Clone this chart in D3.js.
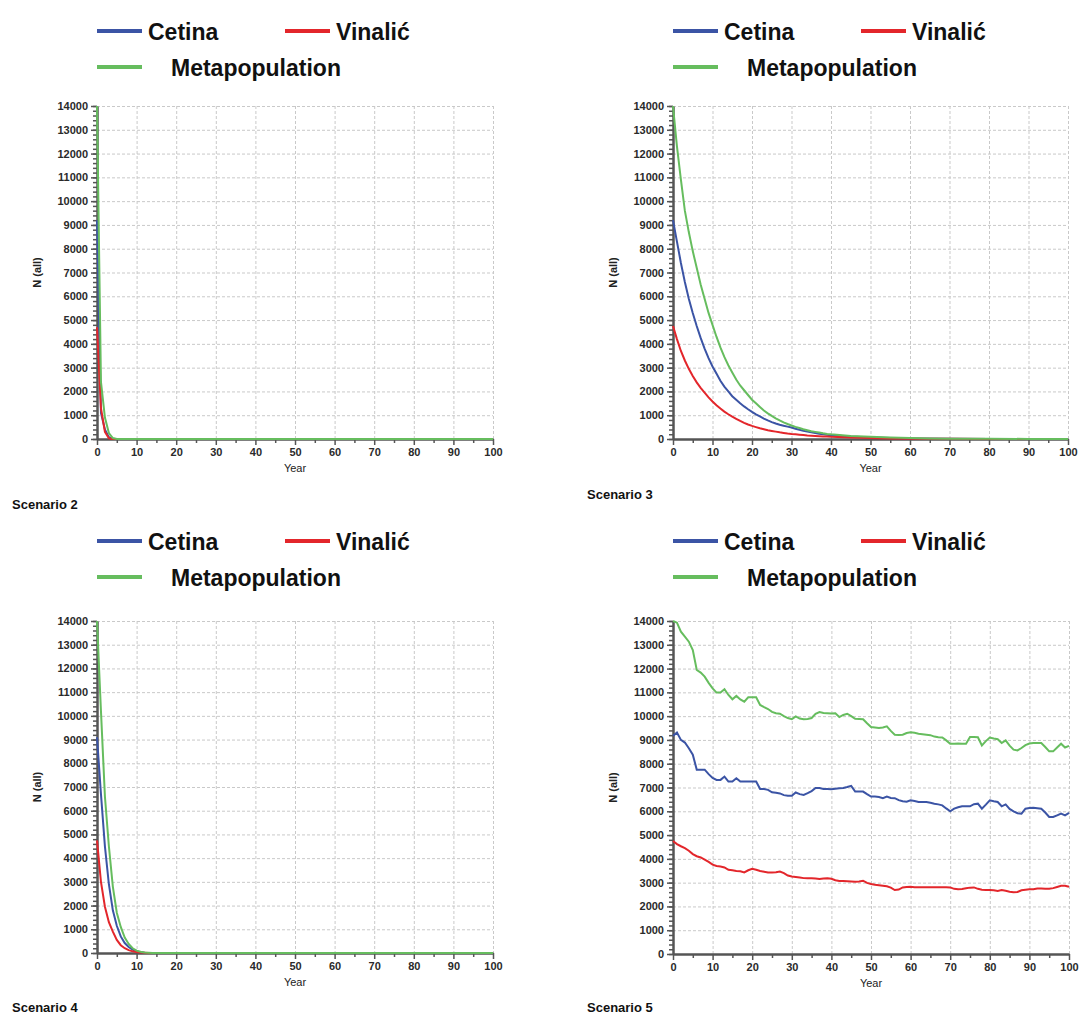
<!DOCTYPE html>
<html>
<head>
<meta charset="utf-8">
<script src="https://cdn.jsdelivr.net/npm/d3@7"></script>
<style>
  body { margin: 0; background: #fff; }
  .grid line { stroke: #c9c9c9; stroke-dasharray: 3,2; }
  .axis path, .axis line { stroke: #555; }
  .axis text { font-family: "Liberation Sans", Arial, sans-serif; font-size: 11px; font-weight: bold; fill: #2a2a2a; }
</style>
</head>
<body>
<svg id="chart"></svg>
<script>
const seriesNames = ["Cetina", "Vinalić", "Metapopulation"];
const seriesColors = ["#3b54a5", "#e3262b", "#66bd5e"];
const yTicks = [0, 1000, 2000, 3000, 4000, 5000, 6000, 7000, 8000, 9000, 10000, 11000, 12000, 13000, 14000];
const xTicks = [0, 10, 20, 30, 40, 50, 60, 70, 80, 90, 100];

// Scenario 2 - crash in the first few years
const s2CetinaYears = [0, 1, 2, 3, 4, 5, 100];
const s2Cetina = [9200, 1100, 400, 80, 5, 0, 0];
const s2VinalicYears = [0, 1, 2, 3, 4, 100];
const s2Vinalic = [4700, 1300, 300, 30, 0, 0];
const s2MetaYears = [0, 1, 2, 3, 4, 5, 100];
const s2Meta = [14000, 2400, 900, 250, 40, 0, 0];

// Scenario 3 - slow decline
const s3CetinaYears = [0, 1, 2, 3, 4, 5, 6, 7, 8, 9, 10, 11, 12, 13, 14, 15, 16, 17, 18, 19, 20,
  21, 22, 23, 24, 25, 26, 27, 28, 29, 30, 31, 32, 33, 34, 35, 36, 37, 38, 39, 40, 45, 50, 55, 60, 70, 80, 100];
const s3Cetina = [9200, 8300, 7400, 6600, 5900, 5300, 4750, 4250, 3800, 3400, 3050, 2750, 2450, 2200, 2000, 1800,
  1650, 1500, 1370, 1250, 1140, 1040, 950, 860, 780, 710, 650, 600, 560, 520, 480, 430, 390, 350, 310, 280, 250,
  220, 200, 180, 160, 100, 60, 40, 25, 10, 5, 2];
const s3VinalicYears = [0, 1, 2, 3, 4, 5, 6, 7, 8, 9, 10, 11, 12, 13, 14, 15, 16, 17, 18, 19, 20,
  21, 22, 23, 24, 25, 26, 27, 28, 29, 30, 31, 32, 33, 34, 35, 36, 37, 38, 39, 40, 45, 50, 55, 60, 70, 80, 100];
const s3Vinalic = [4750, 4200, 3700, 3300, 2950, 2650, 2380, 2150, 1950, 1750, 1580, 1420, 1280, 1150, 1040, 940,
  850, 760, 680, 610, 550, 500, 450, 410, 370, 340, 310, 280, 255, 230, 210, 195, 180, 165, 150, 140, 130, 120,
  110, 100, 90, 60, 40, 25, 15, 8, 4, 2];
const s3MetaYears = [0, 1, 2, 3, 4, 5, 6, 7, 8, 9, 10, 11, 12, 13, 14, 15, 16, 17, 18, 19, 20,
  21, 22, 23, 24, 25, 26, 27, 28, 29, 30, 31, 32, 33, 34, 35, 36, 37, 38, 39, 40, 45, 50, 55, 60, 65, 70, 80, 90, 100];
const s3Meta = [14000, 12300, 10900, 9600, 8700, 7900, 7200, 6500, 5900, 5300, 4800, 4300, 3850, 3450, 3100, 2800,
  2500, 2250, 2050, 1850, 1650, 1500, 1350, 1200, 1080, 970, 870, 780, 700, 630, 570, 510, 460, 410, 370, 330,
  300, 270, 240, 215, 195, 130, 90, 60, 40, 25, 15, 8, 4, 2];

// Scenario 4 - decline within ~12 years
const s4CetinaYears = [0, 1, 2, 3, 4, 5, 6, 7, 8, 9, 10, 11, 12, 13, 14, 100];
const s4Cetina = [9100, 6700, 4500, 2900, 1800, 1150, 700, 420, 250, 140, 70, 35, 15, 5, 0, 0];
const s4VinalicYears = [0, 1, 2, 3, 4, 5, 6, 7, 8, 9, 10, 11, 12, 13, 100];
const s4Vinalic = [4750, 3000, 1950, 1300, 900, 550, 330, 200, 120, 70, 40, 20, 10, 0, 0];
const s4MetaYears = [0, 1, 2, 3, 4, 5, 6, 7, 8, 9, 10, 11, 12, 13, 14, 100];
const s4Meta = [14000, 10200, 6600, 4500, 2800, 1700, 1100, 650, 380, 200, 100, 50, 20, 10, 0, 0];

// Scenario 5 - yearly values, 0..100
const s5Years = d3.range(0, 101);
const s5Cetina = [9170, 9310, 9000, 8890, 8650, 8380, 7750, 7750, 7750, 7560,
  7400, 7320, 7320, 7460, 7250, 7250, 7390, 7250, 7250, 7250,
  7250, 7250, 6940, 6940, 6900, 6800, 6780, 6750, 6680, 6650,
  6650, 6790, 6720, 6690, 6760, 6850, 6980, 6980, 6940, 6940,
  6930, 6950, 6970, 6980, 7020, 7070, 6830, 6830, 6830, 6720,
  6620, 6620, 6600, 6550, 6620, 6560, 6550, 6470, 6420, 6400,
  6460, 6430, 6390, 6390, 6390, 6360, 6320, 6290, 6250, 6120,
  6000, 6110, 6170, 6210, 6210, 6210, 6300, 6320, 6110, 6280,
  6460, 6420, 6390, 6210, 6290, 6100, 6000, 5920, 5900, 6110,
  6140, 6150, 6130, 6110, 5950, 5760, 5760, 5830, 5900, 5830,
  5930];
const s5Vinalic = [4750, 4620, 4530, 4450, 4340, 4200, 4110, 4060, 3970, 3870,
  3760, 3700, 3680, 3640, 3540, 3520, 3490, 3480, 3430, 3520,
  3580, 3540, 3490, 3460, 3430, 3430, 3440, 3470, 3400, 3300,
  3260, 3240, 3220, 3190, 3180, 3180, 3170, 3150, 3170, 3180,
  3160, 3100, 3070, 3070, 3060, 3050, 3040, 3050, 3080, 2990,
  2940, 2910, 2890, 2870, 2850, 2790, 2690, 2710, 2800, 2820,
  2830, 2810, 2810, 2810, 2810, 2810, 2810, 2810, 2810, 2810,
  2800, 2740, 2720, 2730, 2760, 2790, 2800, 2740, 2700, 2690,
  2690, 2680, 2650, 2690, 2660, 2620, 2600, 2610, 2680, 2700,
  2720, 2720, 2750, 2750, 2740, 2740, 2770, 2820, 2870, 2870,
  2830];
const s5Meta = [14000, 13930, 13550, 13340, 13130, 12780, 11940, 11830, 11660, 11400,
  11170, 10990, 10990, 11130, 10890, 10710, 10850, 10700, 10610, 10790,
  10790, 10790, 10470, 10380, 10300, 10180, 10120, 10100, 10000, 9920,
  9870, 9990, 9900, 9870, 9880, 9920, 10100, 10170, 10130, 10120,
  10110, 10120, 9960, 10050, 10100, 10000, 9890, 9880, 9870, 9700,
  9540, 9520, 9500, 9520, 9570, 9380, 9220, 9210, 9220, 9290,
  9320, 9300, 9260, 9240, 9220, 9200, 9140, 9110, 9100, 8980,
  8840, 8840, 8850, 8840, 8840, 9120, 9120, 9110, 8770, 8950,
  9100, 9060, 9030, 8870, 8980, 8760, 8590, 8560, 8660, 8780,
  8850, 8870, 8870, 8870, 8700, 8520, 8520, 8680, 8840, 8680,
  8750];

const zip = (xs, ys) => xs.map((x, i) => ({ year: x, n: ys[i] }));

const panels = [
  { title: "Scenario 2", left: 97, top: 106, right: 493, bottom: 439, titleX: 12, titleY: 509, legY: 31,
    data: [zip(s2CetinaYears, s2Cetina), zip(s2VinalicYears, s2Vinalic), zip(s2MetaYears, s2Meta)] },
  { title: "Scenario 3", left: 673, top: 106, right: 1068, bottom: 439, titleX: 587, titleY: 499, legY: 31,
    data: [zip(s3CetinaYears, s3Cetina), zip(s3VinalicYears, s3Vinalic), zip(s3MetaYears, s3Meta)] },
  { title: "Scenario 4", left: 97, top: 621, right: 493, bottom: 953, titleX: 12, titleY: 1012, legY: 541,
    data: [zip(s4CetinaYears, s4Cetina), zip(s4VinalicYears, s4Vinalic), zip(s4MetaYears, s4Meta)] },
  { title: "Scenario 5", left: 673, top: 621, right: 1069, bottom: 954, titleX: 587, titleY: 1012, legY: 541,
    data: [zip(s5Years, s5Cetina), zip(s5Years, s5Vinalic), zip(s5Years, s5Meta)] },
];

const svg = d3.select("#chart").attr("width", 1083).attr("height", 1019);
svg.append("rect").attr("width", 1083).attr("height", 1019).attr("fill", "#fff");

const font = "'Liberation Sans', Arial, sans-serif";

panels.forEach((p) => {
  const w = p.right - p.left;
  const h = p.bottom - p.top;
  const x = d3.scaleLinear().domain([0, 100]).range([0, w]);
  const y = d3.scaleLinear().domain([0, 14000]).range([h, 0]);

  const g = svg.append("g").attr("transform", `translate(${p.left},${p.top})`);

  // dashed grid
  g.append("g").attr("class", "grid")
    .call(d3.axisLeft(y).tickValues(yTicks.slice(1)).tickSize(-w).tickFormat(""))
    .call((s) => s.select(".domain").remove());
  g.append("g").attr("class", "grid")
    .call(d3.axisBottom(x).tickValues(xTicks.slice(1)).tickSize(h).tickFormat(""))
    .call((s) => s.select(".domain").remove());

  // minor ticks
  g.append("g").attr("class", "axis")
    .call(d3.axisLeft(y).tickValues(d3.range(0, 14001, 200)).tickSize(4).tickFormat(""))
    .call((s) => s.select(".domain").remove())
    .selectAll("line").attr("stroke-width", 1.5);
  g.append("g").attr("class", "axis").attr("transform", `translate(0,${h})`)
    .call(d3.axisBottom(x).tickValues(d3.range(5, 100, 10)).tickSize(4).tickFormat(""))
    .call((s) => s.select(".domain").remove())
    .selectAll("line").attr("stroke-width", 1.5);

  // main axes
  const ya = g.append("g").attr("class", "axis")
    .call(d3.axisLeft(y).tickValues(yTicks).tickFormat(d3.format("d")).tickSize(6).tickSizeOuter(0).tickPadding(3));
  ya.select(".domain").attr("stroke-width", 2.5);
  ya.selectAll("line").attr("stroke-width", 1.5);
  const xa = g.append("g").attr("class", "axis").attr("transform", `translate(0,${h})`)
    .call(d3.axisBottom(x).tickValues(xTicks).tickFormat(d3.format("d")).tickSize(6).tickSizeOuter(0).tickPadding(3));
  xa.select(".domain").attr("stroke-width", 2.5);
  xa.selectAll("line").attr("stroke-width", 1.5);

  g.append("text")
    .attr("transform", `translate(${-56},${h / 2}) rotate(-90)`)
    .attr("text-anchor", "middle")
    .attr("font-family", font).attr("font-size", 11).attr("font-weight", "bold").attr("fill", "#222")
    .text("N (all)");
  g.append("text")
    .attr("x", w / 2).attr("y", h + 33)
    .attr("text-anchor", "middle")
    .attr("font-family", font).attr("font-size", 11).attr("fill", "#222")
    .text("Year");

  const line = d3.line().x((d) => x(d.year)).y((d) => y(d.n));
  p.data.forEach((series, i) => {
    g.append("path").datum(series)
      .attr("fill", "none")
      .attr("stroke", seriesColors[i])
      .attr("stroke-width", 2)
      .attr("d", line);
  });

  // scenario label
  svg.append("text")
    .attr("x", p.titleX).attr("y", p.titleY)
    .attr("font-family", font).attr("font-size", 13).attr("font-weight", "bold").attr("fill", "#111")
    .text(p.title);

  // legend
  const leg = svg.append("g").attr("transform", `translate(${p.left},${p.legY})`)
    .attr("font-family", font).attr("font-size", 23).attr("font-weight", "bold").attr("fill", "#111");
  const legItems = [
    { dx: 0, dy: 0, tx: 51 },
    { dx: 188, dy: 0, tx: 239 },
    { dx: 0, dy: 36, tx: 74 },
  ];
  legItems.forEach((it, i) => {
    leg.append("line")
      .attr("x1", it.dx).attr("x2", it.dx + 45)
      .attr("y1", it.dy).attr("y2", it.dy)
      .attr("stroke", seriesColors[i]).attr("stroke-width", 4);
    leg.append("text")
      .attr("x", it.tx).attr("y", it.dy + 9)
      .text(seriesNames[i]);
  });
});
</script>
</body>
</html>
